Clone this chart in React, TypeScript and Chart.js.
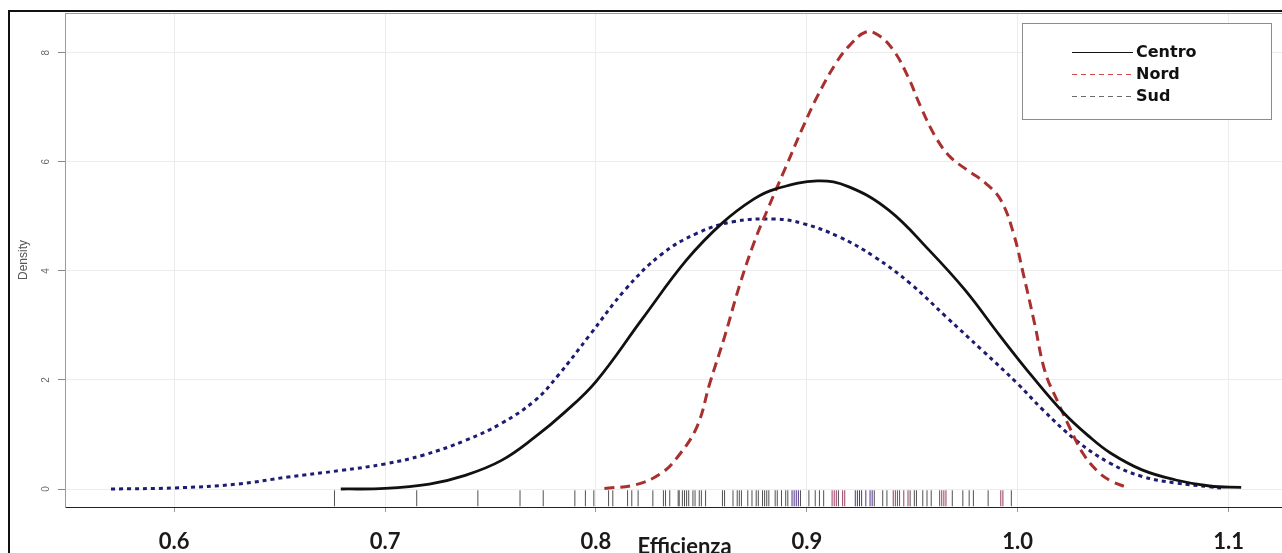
import React, { useEffect, useRef } from 'react';
import { Chart, registerables } from 'chart.js';

Chart.register(...registerables);

// ---- data ----
const seriesNames = ['Centro', 'Nord', 'Sud'];
const xTickValues = [0.6, 0.7, 0.8, 0.9, 1.0, 1.1];
const xTickLabels = ['0.6', '0.7', '0.8', '0.9', '1.0', '1.1'];
const yTickValues = [0, 2, 4, 6, 8];
const xTitle = 'Efficienza';
const yTitle = 'Density';

const centroX = [0.679, 0.7, 0.721, 0.738, 0.755, 0.771, 0.785, 0.8, 0.822, 0.843, 0.86, 0.875, 0.885, 0.905, 0.92, 0.939, 0.958, 0.975, 0.992, 1.007, 1.022, 1.034, 1.044, 1.059, 1.075, 1.091, 1.106];
const centroY = [0, 0.01, 0.09, 0.25, 0.52, 0.95, 1.4, 1.97, 3.12, 4.2, 4.88, 5.32, 5.5, 5.65, 5.54, 5.11, 4.38, 3.65, 2.79, 2.06, 1.39, 0.96, 0.66, 0.35, 0.165, 0.055, 0.03];

const nordX = [0.804, 0.819, 0.831, 0.839, 0.848, 0.854, 0.861, 0.868, 0.875, 0.882, 0.89, 0.898, 0.905, 0.914, 0.92, 0.928, 0.934, 0.941, 0.948, 0.954, 0.961, 0.968, 0.976, 0.985, 0.992, 0.998, 1.003, 1.008, 1.013, 1.019, 1.025, 1.031, 1.038, 1.044, 1.051];
const nordY = [0.01, 0.08, 0.29, 0.6, 1.15, 1.94, 2.79, 3.72, 4.52, 5.18, 5.9, 6.62, 7.2, 7.82, 8.12, 8.38, 8.32, 8.05, 7.56, 7.01, 6.46, 6.09, 5.85, 5.6, 5.3, 4.69, 3.89, 3.04, 2.15, 1.6, 1.1, 0.65, 0.32, 0.15, 0.04];

const sudX = [0.57, 0.6, 0.63, 0.654, 0.679, 0.7, 0.718, 0.738, 0.755, 0.771, 0.782, 0.797, 0.814, 0.831, 0.848, 0.865, 0.885, 0.898, 0.915, 0.932, 0.949, 0.966, 0.983, 1.0, 1.012, 1.0275, 1.0435, 1.059, 1.075, 1.091, 1.098];
const sudY = [0, 0.02, 0.09, 0.22, 0.34, 0.46, 0.62, 0.89, 1.2, 1.62, 2.08, 2.82, 3.66, 4.3, 4.69, 4.9, 4.95, 4.87, 4.63, 4.26, 3.77, 3.16, 2.55, 1.93, 1.45, 0.9, 0.48, 0.23, 0.11, 0.04, 0.01];

// rug (observations)
const rugCentro = [0.676, 0.715, 0.744, 0.764, 0.775, 0.79, 0.795, 0.799, 0.806, 0.808, 0.815, 0.817, 0.82, 0.827, 0.832, 0.833, 0.835, 0.839, 0.8395, 0.841, 0.842, 0.843, 0.844, 0.846, 0.847, 0.849, 0.85, 0.852, 0.86, 0.861, 0.865, 0.867, 0.868, 0.869, 0.872, 0.874, 0.876, 0.877, 0.879, 0.88, 0.881, 0.882, 0.885, 0.886, 0.888, 0.89, 0.891, 0.897, 0.901, 0.904, 0.906, 0.908, 0.915, 0.932, 0.936, 0.938, 0.949, 0.951, 0.952, 0.955, 0.957, 0.959, 0.969, 0.974, 0.977, 0.979, 0.986, 0.997];
const rugNord = [0.912, 0.913, 0.914, 0.917, 0.918, 0.941, 0.942, 0.943, 0.944, 0.946, 0.948, 0.963, 0.964, 0.965, 0.966, 0.992, 0.993];
const rugSud = [0.893, 0.894, 0.895, 0.896, 0.923, 0.924, 0.925, 0.926, 0.928, 0.93, 0.931];

// ---- styles ----
const COLORS = { Centro: '#111111', Nord: '#a8302e', Sud: '#1c1c72' };
const RUG_LEVEL = -0.17;

const legendItems = [
  { label: seriesNames[0], color: '#111111', dash: [] as number[] },
  { label: seriesNames[1], color: '#d04848', dash: [5, 4] },
  { label: seriesNames[2], color: '#6a6a6a', dash: [5, 4] },
];

const toPts = (xs: number[], ys: number[]) => xs.map((x, i) => ({ x, y: ys[i] }));
const rugPts = (xs: number[]) => xs.map((x) => ({ x, y: RUG_LEVEL }));

const boxLegend = {
  id: 'boxLegend',
  afterDraw(chart: any) {
    const ctx = chart.ctx as CanvasRenderingContext2D;
    ctx.save();
    ctx.fillStyle = '#ffffff';
    ctx.fillRect(1022, 23, 249, 96);
    ctx.strokeStyle = '#8c8c8c';
    ctx.lineWidth = 1;
    ctx.strokeRect(1022.5, 23.5, 249, 96);
    legendItems.forEach((it, i) => {
      const y = 52 + i * 22;
      ctx.beginPath();
      ctx.setLineDash(it.dash);
      ctx.strokeStyle = it.color;
      ctx.lineWidth = 1;
      ctx.moveTo(1072, y + 0.5);
      ctx.lineTo(1133, y + 0.5);
      ctx.stroke();
      ctx.setLineDash([]);
      ctx.fillStyle = '#111';
      ctx.font = 'bold 16px "DejaVu Sans"';
      ctx.textBaseline = 'middle';
      ctx.textAlign = 'left';
      ctx.fillText(it.label, 1136, y + 1);
    });
    ctx.restore();
  },
};

export default function App() {
  const ref = useRef<HTMLCanvasElement>(null);

  useEffect(() => {
    if (!ref.current) return;
    const rugDs = (data: number[], color: string) => ({
      type: 'scatter' as const,
      data: rugPts(data),
      showLine: false,
      pointStyle: 'line',
      rotation: 90,
      radius: 8,
      pointRadius: 8,
      borderWidth: 1,
      borderColor: color,
      backgroundColor: color,
    });
    const curve = (label: string, xs: number[], ys: number[], color: string, width: number, dash: number[]) => ({
      label,
      data: toPts(xs, ys),
      showLine: true,
      borderColor: color,
      borderWidth: width,
      borderDash: dash,
      pointRadius: 0,
      tension: 0.4,
    });
    const chart = new Chart(ref.current, {
      type: 'scatter',
      data: {
        datasets: [
          curve(seriesNames[0], centroX, centroY, COLORS.Centro, 2.8, []),
          curve(seriesNames[1], nordX, nordY, COLORS.Nord, 3, [10, 6]),
          curve(seriesNames[2], sudX, sudY, COLORS.Sud, 3, [4, 4]),
          rugDs(rugCentro, 'rgba(50,50,50,0.85)') as any,
          rugDs(rugNord, 'rgba(140,40,80,0.9)') as any,
          rugDs(rugSud, 'rgba(60,30,120,0.9)') as any,
        ],
      },
      options: {
        responsive: false,
        animation: false,
        events: [],
        layout: { padding: { left: 0, right: 0, top: 13, bottom: 0 } },
        plugins: { legend: { display: false }, tooltip: { enabled: false } },
        scales: {
          x: {
            type: 'linear',
            position: 'bottom',
            min: 0.5482,
            max: 1.1358,
            afterBuildTicks: (s: any) => {
              s.ticks = xTickValues.map((v) => ({ value: v }));
            },
            afterFit: (s: any) => {
              s.height = 46;
              s.paddingLeft = 0;
              s.paddingRight = 0;
            },
            grid: { color: '#ececec', lineWidth: 1, tickLength: 5, tickColor: '#999', drawTicks: true },
            border: { display: true, color: '#222', width: 1 },
            ticks: {
              color: '#1a1a1a',
              padding: 19,
              maxRotation: 0,
              minRotation: 0,
              autoSkip: false,
              font: { family: 'Lato', weight: 'bold', size: 22, lineHeight: 1 },
              callback: (v: any) => {
                const i = xTickValues.findIndex((t) => Math.abs(t - v) < 1e-9);
                return i >= 0 ? xTickLabels[i] : '';
              },
            },
            title: {
              display: true,
              text: xTitle,
              color: '#1a1a1a',
              font: { family: 'Lato', weight: 'bold', size: 22, lineHeight: 1 },
              padding: { top: 0, bottom: -5 },
            },
          },
          x2: {
            type: 'linear',
            position: 'top',
            display: true,
            afterFit: (s: any) => {
              s.height = 0;
              s.paddingLeft = 0;
              s.paddingRight = 0;
            },
            grid: { display: false, drawTicks: false },
            ticks: { display: false },
            border: { display: true, color: '#9a9a9a', width: 1 },
          },
          y: {
            type: 'linear',
            position: 'left',
            min: -0.33,
            max: 8.728,
            afterBuildTicks: (s: any) => {
              s.ticks = yTickValues.map((v) => ({ value: v }));
            },
            afterFit: (s: any) => {
              s.width = 65;
              s.paddingTop = 0;
              s.paddingBottom = 0;
            },
            grid: { color: '#ececec', lineWidth: 1, tickLength: 7, tickColor: '#8a8a8a', drawTicks: true },
            border: { display: true, color: '#9a9a9a', width: 1 },
            ticks: {
              color: '#6a6a6a',
              padding: 9,
              minRotation: 90,
              maxRotation: 90,
              crossAlign: 'center',
              font: { family: 'Liberation Sans', size: 10 },
            },
            title: {
              display: true,
              text: yTitle,
              color: '#555',
              font: { family: 'Liberation Sans', size: 12 },
              padding: { top: 16, bottom: 0 },
            },
          },
        },
      } as any,
      plugins: [boxLegend],
    });
    return () => chart.destroy();
  }, []);

  return (
    <div style={{ position: 'absolute', left: 0, top: 0, width: 1282, height: 553, overflow: 'hidden', background: '#fff' }}>
      <div
        style={{
          position: 'absolute',
          left: 8,
          top: 10,
          width: 1400,
          height: 700,
          borderTop: '2px solid #111',
          borderLeft: '2px solid #111',
        }}
      />
      <canvas ref={ref} width={1313} height={553} style={{ position: 'absolute', left: 0, top: 0, width: 1313, height: 553 }} />
    </div>
  );
}
